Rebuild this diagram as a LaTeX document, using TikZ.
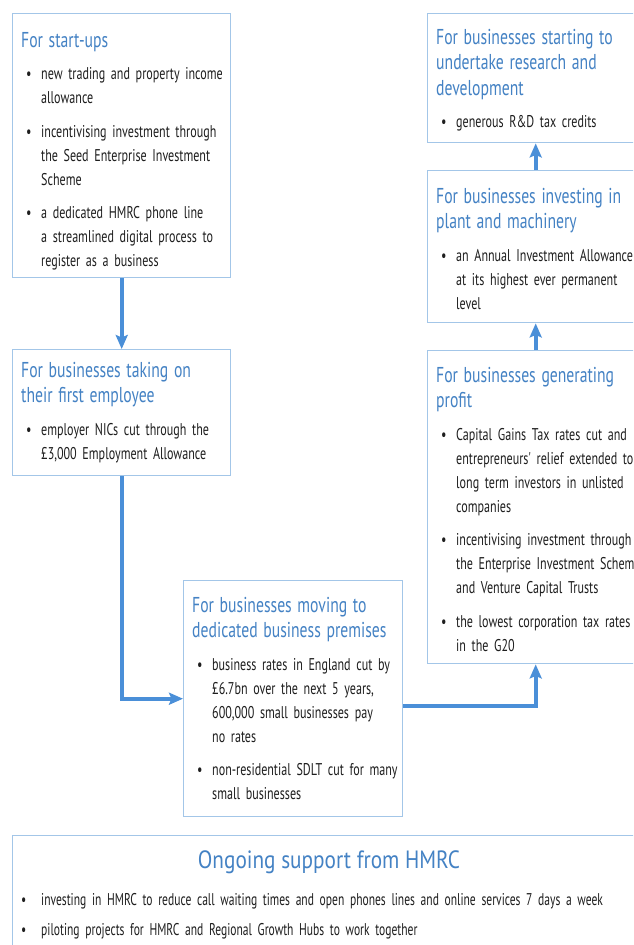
\documentclass[tikz,border=0pt]{standalone}
\usepackage{fontspec}
\setmainfont{PT Sans}
\newfontfamily\ttlfamily[FakeStretch=0.73]{PT Sans}
\newfontfamily\bigfamily[FakeStretch=0.85]{PT Sans}
\newfontfamily\bodyfamily[FakeStretch=0.71]{PT Sans}
\newfontfamily\wideboxfamily[FakeStretch=0.68]{PT Sans}
\usetikzlibrary{arrows.meta}
\definecolor{boxc}{HTML}{A3C6E8}
\definecolor{arrc}{HTML}{4A8FD8}
\definecolor{ttlc}{HTML}{4482C4}
\definecolor{txtc}{HTML}{1E1E1E}
\newcommand\bodyfont{\bodyfamily\fontsize{17}{24}\selectfont}
\newcommand\wideboxfont{\wideboxfamily\fontsize{17}{24}\selectfont}
\newcommand\ttlfont{\ttlfamily\fontsize{21.5}{25.5}\selectfont}
\newcommand\ttl[1]{{\ttlfont\color{ttlc}\noindent\begin{tabular}[t]{@{}l@{}}#1\end{tabular}\par}\vspace{7.5pt}}
\newcommand\bul[2][8.5pt]{{\bodyfont\noindent\hspace*{5pt}\makebox[15pt][l]{\textbullet}\begin{tabular}[t]{@{}l@{}}#2\end{tabular}\par}\vspace{#1}}
\newcommand\bulwide[2][8.5pt]{{\wideboxfont\noindent\hspace*{5pt}\makebox[20pt][l]{\textbullet}\begin{tabular}[t]{@{}l@{}}#2\end{tabular}\par}\vspace{#1}}
\tikzset{
  box/.style={draw=boxc, line width=1.4pt, anchor=north west, inner sep=0pt, fill=white},
  txt/.style={anchor=base west, inner sep=0pt, text width=#1, align=left, text=txtc, font=\bodyfont},
  txt/.default=205pt,
  arr/.style={draw=arrc, line width=4pt, -{Stealth[length=14pt,width=12pt,inset=2.5pt]}}
}
\begin{document}
\setlength{\lineskip}{0pt}\setlength{\lineskiplimit}{0pt}
\begin{tikzpicture}[x=1pt,y=-1pt]
\useasboundingbox (0,0) rectangle (633,945);
\clip (0,0) rectangle (633,945);
\fill[white] (0,0) rectangle (633,945);

% boxes
\node[box, minimum width=218pt, minimum height=264pt] (b1) at (12,13) {};
\node[box, minimum width=218pt, minimum height=126pt] (b2) at (12,349) {};
\node[box, minimum width=219pt, minimum height=236pt] (b3) at (183,580) {};
\node[box, minimum width=216pt, minimum height=313pt] (b4) at (427,350) {};
\node[box, minimum width=216pt, minimum height=152pt] (b5) at (427,170) {};
\node[box, minimum width=216pt, minimum height=129pt] (b6) at (427,13) {};
\node[box, minimum width=650pt, minimum height=150pt] (b7) at (12,835) {};

% texts
\node[txt] (t1) at (21,47) {%
\ttl{For start-ups}
\bul{new trading and property income\\allowance}
\bul{incentivising investment through\\the Seed Enterprise Investment\\Scheme}
\bul{a dedicated HMRC phone line\\a streamlined digital process to\\register as a business}};

\node[txt] (t2) at (21,377) {%
\ttl{For businesses taking on\\their first employee}
\bul{employer NICs cut through the\\\pounds3,000 Employment Allowance}};

\node[txt] (t3) at (192,612) {%
\ttl{For businesses moving to\\dedicated business premises}
\bul{business rates in England cut by\\\pounds6.7bn over the next 5 years,\\600,000 small businesses pay\\no rates}
\bul{non-residential SDLT cut for many\\small businesses}};

\node[txt] (t4) at (436,382) {%
\ttl{For businesses generating\\profit}
\bul{Capital Gains Tax rates cut and\\entrepreneurs' relief extended to\\long term investors in unlisted\\companies}
\bul{incentivising investment through\\the Enterprise Investment Scheme\\and Venture Capital Trusts}
\bul{the lowest corporation tax rates\\in the G20}};

\node[txt] (t5) at (436,203) {%
\ttl{For businesses investing in\\plant and machinery}
\bul{an Annual Investment Allowance\\at its highest ever permanent\\level}};

\node[txt] (t6) at (436,44) {%
\ttl{For businesses starting to\\undertake research and\\development}
\bul{generous R\&D tax credits}};

\node[anchor=base, inner sep=0pt, text=ttlc, font=\bigfamily\fontsize{25}{30}\selectfont] (t7) at (329,868) {Ongoing support from HMRC};
\node[txt=600pt] (t8) at (16,905) {%
\bulwide[6pt]{investing in HMRC to reduce call waiting times and open phones lines and online services 7 days a week}
\bulwide{piloting projects for HMRC and Regional Growth Hubs to work together}};

% connectors
\draw[arr] (b1.south) -- (b2.north);
\draw[arr] (b2.south) |- (b3.west);
\draw[arr] ([yshift=-7pt]b3.east) -| (b4.south);
\draw[arr] (b4.north) -- (b5.south);
\draw[arr] (b5.north) -- (b6.south);
\end{tikzpicture}
\end{document}
